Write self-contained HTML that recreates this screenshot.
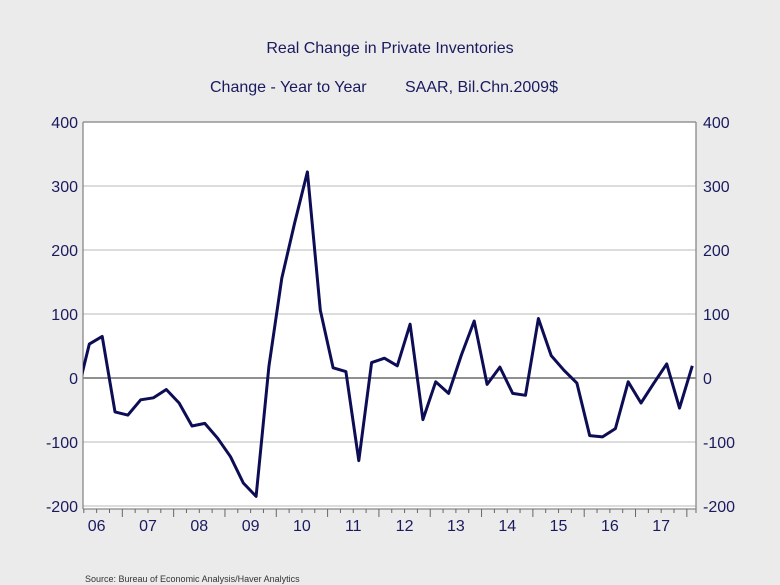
<!DOCTYPE html>
<html><head><meta charset="utf-8"><style>
body{margin:0;background:#ebebeb;}
svg{display:block;font-family:"Liberation Sans",sans-serif;}
</style></head><body>
<svg id="chart" width="780" height="585">
<rect width="780" height="585" fill="#ebebeb"/>
<text x="390" y="53" text-anchor="middle" font-size="16" fill="#1a1a5e">Real Change in Private Inventories</text>
<text x="210" y="92" font-size="16" fill="#1a1a5e">Change - Year to Year</text>
<text x="405" y="92" font-size="16" fill="#1a1a5e">SAAR, Bil.Chn.2009$</text>
<rect x="83" y="122" width="613" height="387" fill="#fff"/>
<g id="grid"></g><g id="axes"></g><g id="series"></g>
<text x="85" y="582" font-size="9" fill="#333">Source:  Bureau of Economic Analysis/Haver Analytics</text>
</svg>
<script>
const values=[-29,53,65,-53,-58,-34,-31,-18,-39,-75,-71,-94,-123,-164,-185,18,156,242,322,106,16,10,-129,24,31,19,84,-65,-6,-24,36,89,-10,17,-24,-27,93,35,12,-8,-90,-92,-79,-6,-39,-8,22,-47,19];
const yTicks=[400,300,200,100,0,-100,-200];
const yearLabels=["06","07","08","09","10","11","12","13","14","15","16","17"];
const NS="http://www.w3.org/2000/svg";
const X0=83,X1=696,YT=122,YB=509;
const q=12.83, start=71;
const xq=i=>start+5.5+i*q;
const y=v=>378-v*0.64;
function mk(t,a,p){const e=document.createElementNS(NS,t);for(const k in a)e.setAttribute(k,a[k]);p.appendChild(e);return e;}
const grid=document.getElementById('grid'),axes=document.getElementById('axes'),ser=document.getElementById('series');
yTicks.forEach(v=>{
 const l=mk('line',{x1:X0,x2:X1,y1:y(v),y2:y(v),stroke:v===0?'#222':'#c8c8c8','stroke-width':v===0?1:1.2},grid);
 
 
 const a=mk('text',{x:78,y:y(v)+6,'text-anchor':'end','font-size':16,fill:'#1a1a5e'},axes);a.textContent=v;
 
 
 const b=mk('text',{x:703,y:y(v)+6,'font-size':16,fill:'#1a1a5e'},axes);b.textContent=v;
 
 
});
[[X0,YT,X0,YB],[X1,YT,X1,YB+4],[X0,YB,X1,YB],[X0,YT,X1,YT]].forEach(c=>{
 const l=mk('line',{x1:c[0],y1:c[1],x2:c[2],y2:c[3],stroke:'#888','stroke-width':1.3},axes);
 
 
});
for(let k=0;k<=48;k++){
 const x=start+k*q; if(x<X0-1||x>X1)continue;
 const maj=k%4===0;
 const l=mk('line',{x1:x,x2:x,y1:YB,y2:YB+(maj?8:4),stroke:'#666','stroke-width':1},axes);
 
 
}
yearLabels.forEach((s,i)=>{
 const t=mk('text',{x:start+i*4*q+2*q,y:531,'text-anchor':'middle','font-size':16,fill:'#1a1a5e'},axes);t.textContent=s;
 
 
});
mk('clipPath',{id:'cp'},ser).appendChild(document.createElementNS(NS,'rect'));
const cr=ser.querySelector('clipPath rect');cr.setAttribute('x',X0);cr.setAttribute('y',YT);cr.setAttribute('width',X1-X0);cr.setAttribute('height',YB-YT);
const p=mk('path',{d:values.map((v,i)=>(i?'L':'M')+xq(i).toFixed(1)+','+y(v).toFixed(1)).join(''),fill:'none',stroke:'#0d0d55','stroke-width':3,'stroke-linejoin':'round','clip-path':'url(#cp)'},ser);


</script>
</body></html>
